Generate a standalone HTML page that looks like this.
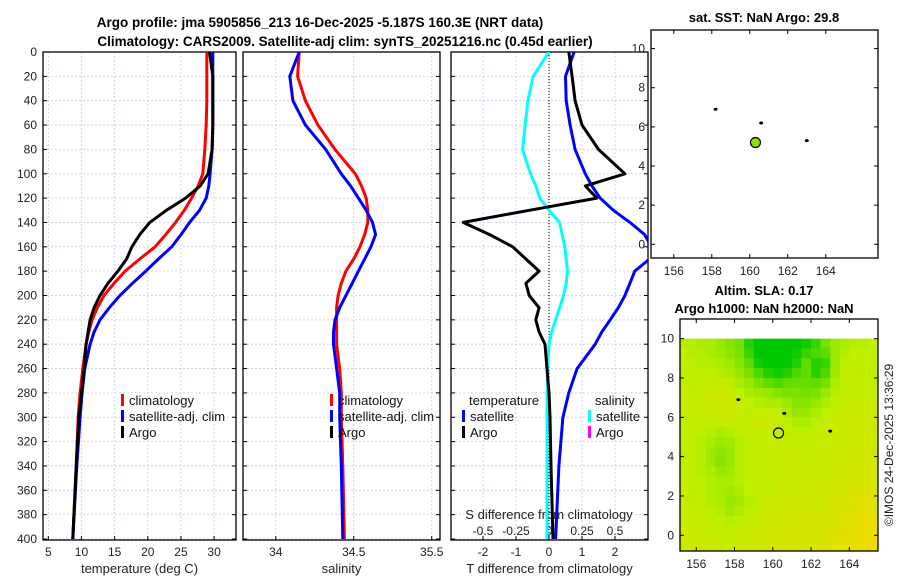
<!DOCTYPE html>
<html><head><meta charset="utf-8"><style>
body{margin:0;background:#fff;width:900px;height:580px;overflow:hidden}
svg{font-family:"Liberation Sans",sans-serif}
</style></head><body>
<svg id="c" width="900" height="580" xmlns="http://www.w3.org/2000/svg">
<text x="320" y="27" font-size="13.5" font-weight="bold" text-anchor="middle">Argo profile: jma 5905856_213 16-Dec-2025 -5.187S 160.3E (NRT data)</text>
<text x="345" y="46" font-size="13.5" font-weight="bold" text-anchor="middle">Climatology: CARS2009. Satellite-adj clim: synTS_20251216.nc (0.45d earlier)</text>
<text x="764" y="22" font-size="13" font-weight="bold" text-anchor="middle">sat. SST: NaN Argo: 29.8</text>
<text x="764" y="295" font-size="13" font-weight="bold" text-anchor="middle">Altim. SLA: 0.17</text>
<text x="764" y="313" font-size="13" font-weight="bold" text-anchor="middle">Argo h1000: NaN h2000: NaN</text>
<text transform="translate(893,445) rotate(-90)" font-size="12" text-anchor="middle" fill="#222">©IMOS 24-Dec-2025 13:36:29</text>
</svg>
<script>
const depths=[0,20,40,60,80,100,110,120,130,140,150,160,170,180,190,200,210,220,230,240,260,280,300,340,400];
const tempClim=[28.9,28.9,28.9,28.8,28.6,28.3,27.6,26.6,25.5,24.2,22.7,21.1,18.8,16.6,14.9,13.4,12.4,11.6,11.1,10.7,10.2,9.8,9.5,9.2,8.7];
const tempSat=[29.8,29.8,29.8,29.8,29.7,29.4,29.2,28.8,27.8,26.3,25.0,23.6,21.6,19.7,17.7,15.8,14.2,12.8,11.9,11.3,10.5,10.1,9.8,9.3,8.7];
const tempArgo=[29.3,29.8,29.8,29.8,29.7,29.1,27.9,25.7,22.8,20.3,18.8,17.6,16.8,15.5,14.0,12.8,11.9,11.3,11.0,10.7,10.4,10.0,9.6,9.2,8.7];
const salClim=[34.15,34.14,34.19,34.27,34.38,34.51,34.55,34.58,34.59,34.59,34.57,34.54,34.50,34.45,34.42,34.40,34.39,34.39,34.39,34.39,34.41,34.42,34.42,34.43,34.44];
const salSat=[34.15,34.09,34.11,34.19,34.32,34.42,34.48,34.53,34.58,34.62,34.64,34.61,34.57,34.53,34.49,34.45,34.41,34.38,34.37,34.37,34.39,34.41,34.41,34.42,34.43];
const tdiffSat=[0.76,0.5,0.52,0.64,0.79,1.1,1.3,1.55,1.95,2.45,2.9,3.1,3.05,2.6,2.45,2.3,2.1,1.85,1.6,1.4,0.85,0.6,0.42,0.3,0.2];
const tdiffArgo=[0.6,0.7,0.79,1.0,1.5,2.3,1.1,1.45,-0.6,-2.6,-1.8,-1.1,-0.7,-0.3,-0.7,-0.6,-0.3,-0.4,-0.3,-0.12,-0.06,0.0,0.03,0.06,0.12];
const sdiffSat=[0,-0.12,-0.16,-0.18,-0.2,-0.14,-0.1,-0.07,0,0.08,0.1,0.12,0.13,0.14,0.13,0.11,0.08,0.05,0.02,0,-0.01,-0.015,-0.015,-0.015,-0.015];
const depthTicks=[0,20,40,60,80,100,120,140,160,180,200,220,240,260,280,300,320,340,360,380,400];
const tempTicks=[5,10,15,20,25,30];
const salTicks=[34,34.5,35];
const salTickLabels=["34","34.5","35.5"];
const tdTicks=[-2,-1,0,1,2];
const sdTicks=[-0.5,-0.25,0,0.25,0.5];
const sdTickLabels=["-0.5","-0.25","0","0.25","0.5"];
const mapXTicks=[156,158,160,162,164];
const mapYTicks=[0,2,4,6,8,10];
const floatLon=160.3, floatLat=5.2;
const contourLon=[158.2,160.6,163.0];
const contourLat=[6.9,6.2,5.3];
const slaLons=[155.25,155.75,156.25,156.75,157.25,157.75,158.25,158.75,159.25,159.75,160.25,160.75,161.25,161.75,162.25,162.75,163.25,163.75,164.25,164.75,165.25];
const slaLats=[9.75,9.25,8.75,8.25,7.75,7.25,6.75,6.25,5.75,5.25,4.75,4.25,3.75,3.25,2.75,2.25,1.75,1.25,0.75,0.25,-0.25,-0.75];
const slaVals=[
[0.05,0.05,0.1,0.1,0.2,0.3,0.4,0.8,1.0,1.0,1.0,1.0,1.0,0.9,0.7,0.4,0.2,0.1,0.05,0.05,0.0],
[0.0,0.05,0.05,0.1,0.15,0.25,0.35,0.7,1.0,1.0,1.0,1.0,0.9,0.7,0.6,0.5,0.2,0.05,0.0,0.0,0.0],
[0.0,0.0,0.05,0.05,0.1,0.15,0.3,0.5,0.9,1.0,1.0,1.0,0.8,0.5,0.8,0.7,0.2,0.0,0.0,0.0,-0.05],
[-0.05,0.0,0.0,0.0,0.05,0.1,0.2,0.35,0.6,0.8,0.9,0.8,0.6,0.5,0.8,0.6,0.15,0.0,-0.05,-0.05,-0.05],
[-0.05,-0.05,0.0,-0.05,-0.1,-0.05,0.1,0.2,0.35,0.5,0.6,0.5,0.45,0.45,0.5,0.4,0.1,0.0,-0.05,-0.1,-0.1],
[-0.1,-0.05,-0.1,-0.15,-0.2,-0.15,0.0,0.1,0.15,0.2,0.3,0.35,0.35,0.4,0.35,0.2,0.05,-0.05,-0.1,-0.1,-0.1],
[-0.1,-0.1,-0.15,-0.2,-0.25,-0.2,-0.1,0.0,0.05,0.1,0.1,0.2,0.3,0.3,0.2,0.1,0.0,-0.1,-0.15,-0.15,-0.15],
[-0.1,-0.1,-0.1,-0.15,-0.2,-0.2,-0.1,-0.05,-0.1,-0.1,0.0,0.1,0.2,0.2,0.1,0.0,-0.1,-0.15,-0.2,-0.2,-0.2],
[-0.05,-0.05,-0.05,-0.05,-0.1,-0.1,-0.05,-0.1,-0.2,-0.2,-0.1,0.0,0.1,0.1,0.0,-0.05,-0.15,-0.2,-0.2,-0.2,-0.2],
[0.0,0.0,0.0,0.05,0.1,0.05,0.0,-0.05,-0.1,-0.15,-0.1,-0.05,0.0,0.0,-0.05,-0.1,-0.15,-0.2,-0.2,-0.2,-0.2],
[0.0,0.0,0.05,0.1,0.2,0.15,0.05,0.0,-0.05,-0.1,-0.1,-0.1,-0.05,-0.05,-0.1,-0.1,-0.15,-0.2,-0.2,-0.2,-0.25],
[0.0,0.0,0.05,0.15,0.25,0.2,0.05,0.0,-0.05,-0.1,-0.15,-0.15,-0.1,-0.1,-0.1,-0.15,-0.15,-0.2,-0.2,-0.25,-0.25],
[0.0,0.0,0.05,0.15,0.3,0.2,0.05,0.0,-0.05,-0.1,-0.15,-0.15,-0.15,-0.1,-0.15,-0.15,-0.2,-0.2,-0.25,-0.25,-0.3],
[-0.05,0.0,0.05,0.1,0.2,0.15,0.05,0.0,-0.05,-0.1,-0.15,-0.15,-0.15,-0.15,-0.15,-0.15,-0.2,-0.2,-0.25,-0.3,-0.3],
[-0.05,0.0,0.0,0.05,0.1,0.1,0.05,0.0,-0.05,-0.1,-0.15,-0.15,-0.15,-0.15,-0.2,-0.2,-0.2,-0.25,-0.3,-0.3,-0.35],
[-0.1,-0.05,0.0,0.05,0.1,0.15,0.1,0.0,-0.05,-0.1,-0.15,-0.2,-0.2,-0.2,-0.2,-0.2,-0.25,-0.3,-0.35,-0.4,-0.4],
[-0.1,-0.05,0.0,0.05,0.1,0.2,0.15,0.05,-0.05,-0.15,-0.2,-0.2,-0.2,-0.2,-0.2,-0.25,-0.3,-0.35,-0.45,-0.5,-0.45],
[-0.1,-0.1,-0.05,0.0,0.05,0.15,0.1,0.0,-0.1,-0.2,-0.2,-0.25,-0.25,-0.25,-0.25,-0.3,-0.35,-0.4,-0.5,-0.55,-0.5],
[-0.15,-0.1,-0.1,-0.05,0.0,0.05,0.0,-0.05,-0.15,-0.2,-0.25,-0.25,-0.3,-0.3,-0.3,-0.3,-0.35,-0.45,-0.55,-0.6,-0.6],
[-0.2,-0.15,-0.1,-0.1,-0.05,-0.05,-0.1,-0.15,-0.2,-0.25,-0.3,-0.3,-0.3,-0.3,-0.3,-0.35,-0.4,-0.5,-0.6,-0.65,-0.65],
[-0.2,-0.2,-0.15,-0.15,-0.1,-0.1,-0.15,-0.2,-0.25,-0.3,-0.3,-0.3,-0.35,-0.35,-0.35,-0.4,-0.45,-0.55,-0.6,-0.7,-0.7],
[-0.25,-0.2,-0.2,-0.2,-0.15,-0.15,-0.2,-0.25,-0.3,-0.3,-0.35,-0.35,-0.35,-0.35,-0.4,-0.4,-0.5,-0.55,-0.65,-0.7,-0.7]];

const NS="http://www.w3.org/2000/svg";
const svg=document.getElementById('c');
function mk(tag,attrs,parent){const e=document.createElementNS(NS,tag);for(const k in attrs)e.setAttribute(k,attrs[k]);(parent||svg).appendChild(e);return e;}
const Y0=52,Y1=539,PT=540;
const yD=d=>Y0+d*(Y1-Y0)/400;
function lin(d0,d1,r0,r1){return v=>r0+(v-d0)*(r1-r0)/(d1-d0);}
const panels=[
 {name:'temperature-panel',x0:43,x1:236,x:lin(4.2,33.3,43,236),ticks:tempTicks,labels:tempTicks.map(String),title:'temperature (deg C)'},
 {name:'salinity-panel',x0:243,x1:440,x:lin(33.79,35.053,243,440),ticks:salTicks,labels:salTickLabels,title:'salinity'},
 {name:'difference-panel',x0:451,x1:648,x:lin(-2.97,3.0,451,648),ticks:tdTicks,labels:tdTicks.map(String),title:'T difference from climatology'}];
panels.forEach((p,pi)=>{
 const g=mk('g',{});
 
 
 depthTicks.forEach(d=>{const l=mk('line',{x1:p.x0,x2:p.x1,y1:yD(d),y2:yD(d),stroke:'#c4cce8','stroke-width':0.8,'stroke-dasharray':'2,2'},g);
  
  mk('line',{x1:p.x0,x2:p.x0+4,y1:yD(d),y2:yD(d),stroke:'#000'},g);mk('line',{x1:p.x1,x2:p.x1-4,y1:yD(d),y2:yD(d),stroke:'#000'},g);});
 p.ticks.forEach((t,i)=>{const X=p.x(t);mk('line',{x1:X,x2:X,y1:Y0,y2:PT,stroke:'#c4cce8','stroke-width':0.8,'stroke-dasharray':'2,2'},g);
  mk('line',{x1:X,x2:X,y1:PT,y2:PT-4,stroke:'#000'},g);
  const t2=mk('text',{x:X,y:556,'font-size':12,'text-anchor':'middle',fill:'#222'},g);t2.textContent=p.labels[i];
  });
 const tt=mk('text',{x:(p.x0+p.x1)/2,y:573,'font-size':13,'text-anchor':'middle',fill:'#222'},g);tt.textContent=p.title;
 
 mk('rect',{x:p.x0,y:Y0,width:p.x1-p.x0,height:PT-Y0,fill:'none',stroke:'#000','stroke-width':1.3},g);
});
depthTicks.forEach(d=>{const t=mk('text',{x:37,y:yD(d)+4,'font-size':12,'text-anchor':'end',fill:'#222'});t.textContent=d;
 });
const sx=s=>panels[2].x(s*4);
const st=mk('text',{x:549,y:519,'font-size':13,'text-anchor':'middle',fill:'#222'});st.textContent='S difference from climatology';

sdTicks.forEach((s,i)=>{const t=mk('text',{x:sx(s),y:535,'font-size':12,'text-anchor':'middle',fill:'#222'});t.textContent=sdTickLabels[i];
 });
mk('line',{x1:panels[2].x(0),x2:panels[2].x(0),y1:Y0,y2:PT,stroke:'#000','stroke-dasharray':'1,2'});
function line(xf,vals,color,name,w){const pts=vals.map((v,i)=>xf(v).toFixed(1)+','+yD(depths[i]).toFixed(1)).join(' ');
 const cp=mk('polyline',{points:pts,fill:'none',stroke:color,'stroke-width':w||3,'stroke-linejoin':'round'});
 }
svg.insertAdjacentHTML('beforeend','<clipPath id="cp3"><rect x="451" y="52" width="197" height="488"/></clipPath>');
line(panels[0].x,tempClim,'#f00','temp-climatology-line');
line(panels[0].x,tempSat,'#00f','temp-satellite-line');
line(panels[0].x,tempArgo,'#000','temp-argo-line');
line(panels[1].x,salClim,'#f00','sal-climatology-line');
line(panels[1].x,salSat,'#00f','sal-satellite-line');
line(sx,sdiffSat,'#0ff','sdiff-satellite-line');
line(panels[2].x,tdiffSat,'#00f','tdiff-satellite-line');
line(panels[2].x,tdiffArgo,'#000','tdiff-argo-line');
svg.querySelectorAll('polyline').forEach((e,i)=>{if(i>=5)e.setAttribute('clip-path','url(#cp3)');});
function leg(x,y,color,label,name){if(color)mk('rect',{x:x,y:y-11,width:3,height:12,fill:color});
 const t=mk('text',{x:x+(color?8:0),y:y,'font-size':13,fill:'#111'});t.textContent=label;
 }
[[121,'climatology-legend'],[330,'salinity-climatology-legend']].forEach(([x,n])=>{
 leg(x,405,'#f00','climatology',n);leg(x,421,'#00f','satellite-adj. clim',n+'-sat');leg(x,437,'#000','Argo',n+'-argo');});
leg(469,405,null,'temperature','legend-temperature-header');
leg(462,421,'#00f','satellite','legend-t-satellite');
leg(462,437,'#000','Argo','legend-t-argo');
leg(595,405,null,'salinity','legend-salinity-header');
leg(588,421,'#0ff','satellite','legend-s-satellite');
leg(588,437,'#f0f','Argo','legend-s-argo');
function map(m){
 const g=mk('g',{});
 
 
 const X=lin(m.lon0,m.lon1,m.x0,m.x1),Y=lin(m.lat0,m.lat1,m.y1,m.y0);
 if(m.heat){const cl='cl'+m.name;svg.insertAdjacentHTML('beforeend',`<clipPath id="${cl}"><rect x="${m.x0}" y="${Y(10.1)}" width="${m.x1-m.x0}" height="${m.y1-Y(10.1)}"/></clipPath>`);
  const hg=mk('g',{'clip-path':`url(#${cl})`},g);
  slaLats.forEach((la,r)=>slaLons.forEach((lo,c)=>{const v=slaVals[r][c];let R,G,B;
   if(v>=0){R=190*(1-v);G=240-40*v;B=0;}else{const f=Math.min(-v/0.7,1);R=190+50*f;G=240-20*f;B=0;}
   const cell=mk('rect',{x:X(lo-0.25),y:Y(la+0.25),width:X(lo+0.25)-X(lo-0.25)+0.5,height:Y(la-0.25)-Y(la+0.25)+0.5,fill:`rgb(${R|0},${G|0},${B|0})`},hg);
   }));}
 mapXTicks.forEach(t=>{mk('line',{x1:X(t),x2:X(t),y1:m.y1,y2:m.y1-4,stroke:'#000'},g);mk('line',{x1:X(t),x2:X(t),y1:m.y0,y2:m.y0+4,stroke:'#000'},g);
  const tx=mk('text',{x:X(t),y:m.y1+17,'font-size':12,'text-anchor':'middle',fill:'#222'},g);tx.textContent=t;
  });
 mapYTicks.forEach(t=>{mk('line',{x1:m.x0,x2:m.x0+4,y1:Y(t),y2:Y(t),stroke:'#000'},g);mk('line',{x1:m.x1,x2:m.x1-4,y1:Y(t),y2:Y(t),stroke:'#000'},g);
  const tx=mk('text',{x:m.x0-6,y:Y(t)+4,'font-size':12,'text-anchor':'end',fill:'#222'},g);tx.textContent=t;
  });
 contourLon.forEach((lo,i)=>{const d=mk('ellipse',{cx:X(lo),cy:Y(contourLat[i]),rx:2,ry:1.5,fill:'#000'},g);
  });
 const fl=mk('circle',{cx:X(floatLon),cy:Y(floatLat),r:5,fill:m.heat?'none':'#8fe000',stroke:'#000','stroke-width':1.2},g);
 
 mk('rect',{x:m.x0,y:m.y0,width:m.x1-m.x0,height:m.y1-m.y0,fill:'none',stroke:'#000','stroke-width':1.3},g);
}
map({name:'sst-map',x0:651,x1:878,y0:30,y1:258,lon0:154.8,lon1:166.75,lat0:-0.7,lat1:10.95,heat:false});
map({name:'sla-map',x0:680,x1:878,y0:319,y1:551,lon0:155.15,lon1:165.5,lat0:-0.8,lat1:11.0,heat:true});
</script>
</body></html>
